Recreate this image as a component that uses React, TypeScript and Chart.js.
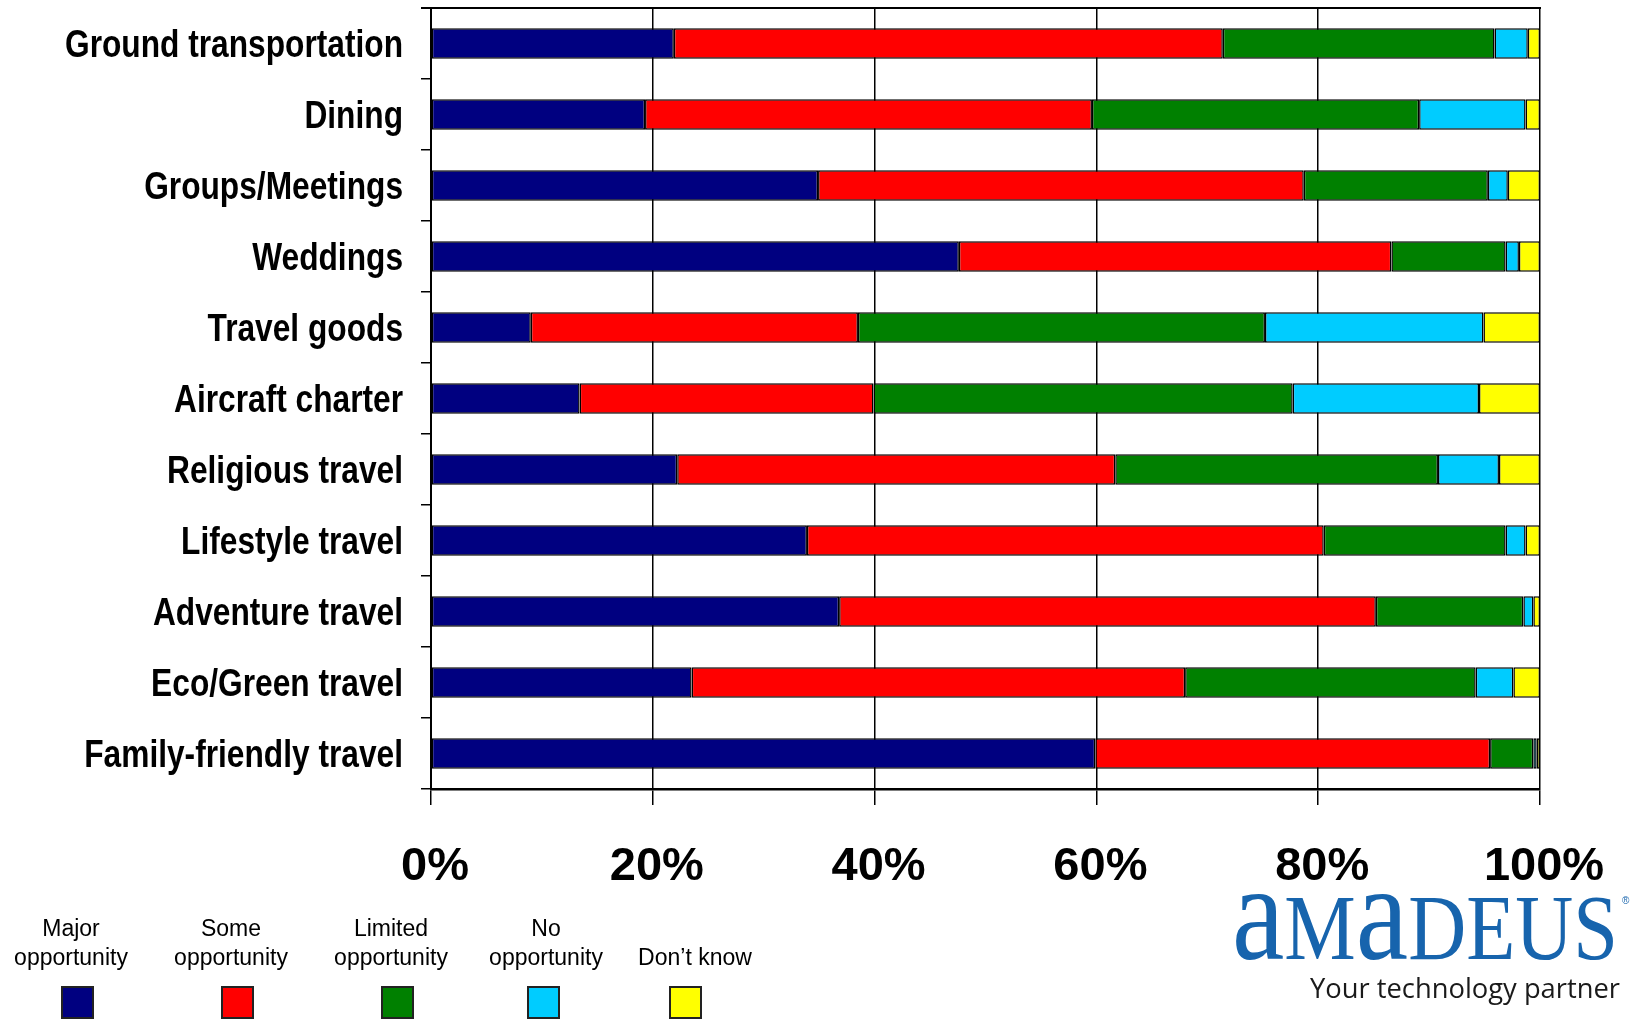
import { useEffect, useRef } from "react";
import { Chart, registerables } from "chart.js";

Chart.register(...registerables);

const categories = [
  "Ground transportation",
  "Dining",
  "Groups/Meetings",
  "Weddings",
  "Travel goods",
  "Aircraft charter",
  "Religious travel",
  "Lifestyle travel",
  "Adventure travel",
  "Eco/Green travel",
  "Family-friendly travel",
];

const majorOpportunity = [21.9, 19.3, 34.9, 47.6, 9.0, 13.4, 22.2, 33.9, 36.8, 23.5, 59.9];
const someOpportunity = [49.5, 40.3, 43.8, 39.0, 29.5, 26.5, 39.5, 46.6, 48.4, 44.5, 35.6];
const limitedOpportunity = [24.5, 29.5, 16.6, 10.3, 36.7, 37.8, 29.1, 16.4, 13.3, 26.2, 3.9];
const noOpportunity = [3.0, 9.6, 1.8, 1.2, 19.7, 16.8, 5.5, 1.8, 0.9, 3.4, 0.3];
const dontKnow = [1.1, 1.3, 2.9, 1.9, 5.1, 5.5, 3.7, 1.3, 0.6, 2.4, 0.3];

const seriesNames = ["Major opportunity", "Some opportunity", "Limited opportunity", "No opportunity", "Don’t know"];
const legendLines = [["Major", "opportunity"], ["Some", "opportunity"], ["Limited", "opportunity"], ["No", "opportunity"], ["Don’t know"]];
const seriesColors = ["#000080", "#FF0000", "#008000", "#00CCFF", "#FFFF00"];
const seriesValues = [majorOpportunity, someOpportunity, limitedOpportunity, noOpportunity, dontKnow];

const xTickValues = [0, 20, 40, 60, 80, 100];

const LABEL_FONT = "bold 38.5px 'Liberation Sans', Arial, sans-serif";
const LABEL_TARGET_WIDTH = 338;

// Draws the y category labels (taken from the y scale's ticks) horizontally condensed,
// like the narrow bold face of the original.
const condensedYLabels = {
  id: "condensedYLabels",
  afterDraw(chart: any) {
    const { ctx } = chart;
    const yScale = chart.scales.y;
    ctx.save();
    ctx.font = LABEL_FONT;
    const ref = ctx.measureText(categories[0]).width || LABEL_TARGET_WIDTH;
    const sx = LABEL_TARGET_WIDTH / ref;
    ctx.fillStyle = "#000";
    ctx.textAlign = "right";
    ctx.textBaseline = "middle";
    const xRight = yScale.right - 10 - 18;
    yScale.ticks.forEach((_t: any, i: number) => {
      const y = yScale.getPixelForTick(i) + 3;
      const text = yScale.getLabelForValue(i);
      ctx.save();
      ctx.translate(xRight, y);
      ctx.scale(sx, 1);
      ctx.fillText(text, 0, 0);
      ctx.restore();
    });
    ctx.restore();
  },
};

const topLinePlugin = {
  id: "topLine",
  afterDatasetsDraw(chart: any) {
    const { ctx, chartArea } = chart;
    ctx.save();
    ctx.strokeStyle = "#000";
    ctx.lineWidth = 2;
    ctx.beginPath();
    ctx.moveTo(chartArea.left - 10, chartArea.top);
    ctx.lineTo(chartArea.right + 1, chartArea.top);
    ctx.stroke();
    ctx.restore();
  },
};

export default function App() {
  const canvasRef = useRef<HTMLCanvasElement | null>(null);

  useEffect(() => {
    if (!canvasRef.current) return;
    const chart = new Chart(canvasRef.current, {
      type: "bar",
      data: {
        labels: categories,
        datasets: seriesValues.map((vals, i) => ({
          label: seriesNames[i],
          data: vals,
          backgroundColor: seriesColors[i],
          borderColor: "#000",
          borderWidth: 1.5,
          borderSkipped: false,
          barPercentage: 0.43,
          categoryPercentage: 1,
        })),
      },
      options: {
        indexAxis: "y",
        responsive: false,
        animation: false,
        layout: { padding: { left: 0, right: 98, top: 8, bottom: 0 } },
        plugins: {
          legend: { display: false },
          tooltip: { enabled: false },
        },
        scales: {
          x: {
            stacked: true,
            min: 0,
            max: 100,
            afterBuildTicks: (s: any) => {
              s.ticks = xTickValues.map((v) => ({ value: v }));
            },
            ticks: {
              color: "#000",
              font: { family: "'Liberation Sans', Arial, sans-serif", size: 47, weight: "bold" },
              padding: 34,
              labelOffset: 4,
              maxRotation: 0,
              callback: (v: any) => v + "%",
            },
            grid: { color: "#000", lineWidth: 1.5, tickLength: 16, drawTicks: true },
            border: { color: "#000", width: 2.5 },
            afterFit: (s: any) => {
              s.height = 230;
              s.paddingLeft = 0;
              s.paddingRight = 0;
            },
          },
          y: {
            stacked: true,
            ticks: {
              color: "rgba(0,0,0,0)",
              font: { family: "'Liberation Sans', Arial, sans-serif", size: 32, weight: "bold" },
              padding: 18,
              autoSkip: false,
            },
            grid: { drawOnChartArea: false, color: "#000", lineWidth: 1.5, tickLength: 10 },
            border: { color: "#000", width: 2 },
            afterFit: (s: any) => {
              s.width = 431;
              s.paddingTop = 0;
              s.paddingBottom = 0;
            },
          },
        },
      } as any,
      plugins: [topLinePlugin, condensedYLabels],
    });
    return () => chart.destroy();
  }, []);

  const textCenters = [71, 231, 391, 546, 695];
  const swatchCenters = [77, 237, 397, 543, 685];

  return (
    <div
      style={{
        position: "fixed",
        left: 0,
        top: 0,
        width: 1638,
        height: 1019,
        background: "#fff",
        overflow: "hidden",
      }}
    >
      <canvas ref={canvasRef} width={1638} height={1019} style={{ display: "block", width: 1638, height: 1019 }} />
      {legendLines.map((lines, i) => (
        <div
          key={"t" + i}
          style={{
            position: "absolute",
            left: textCenters[i] - 100,
            width: 200,
            top: 971.5 - lines.length * 29,
            textAlign: "center",
            fontFamily: "'Liberation Sans', Arial, sans-serif",
            fontSize: 23,
            lineHeight: "29px",
            color: "#000",
          }}
        >
          {lines.map((l, j) => (
            <div key={j}>{l}</div>
          ))}
        </div>
      ))}
      {seriesColors.map((c, i) => (
        <div
          key={"s" + i}
          style={{
            position: "absolute",
            left: swatchCenters[i] - 16.5,
            top: 986,
            width: 33,
            height: 33,
            boxSizing: "border-box",
            background: c,
            border: "2px solid #222",
          }}
        />
      ))}
      <svg
        width={1638}
        height={1019}
        style={{ position: "absolute", left: 0, top: 0, pointerEvents: "none" }}
      >
        <text
          x={1232}
          y={959}
          textLength={386}
          lengthAdjust="spacingAndGlyphs"
          fill="#1764ad"
          fontFamily="'Liberation Serif', 'DejaVu Serif', serif"
          fontSize={94}
        >
          <tspan fontSize={138}>a</tspan>M<tspan fontSize={138}>a</tspan>DEUS
        </text>
        <text x={1622} y={904} fill="#1764ad" fontFamily="'Liberation Sans', sans-serif" fontSize={10}>
          ®
        </text>
        <text
          x={1310}
          y={998}
          textLength={310}
          lengthAdjust="spacingAndGlyphs"
          fill="#1a1a1a"
          fontFamily="'Open Sans', 'DejaVu Sans', sans-serif"
          fontSize={28}
        >
          Your technology partner
        </text>
      </svg>
    </div>
  );
}
